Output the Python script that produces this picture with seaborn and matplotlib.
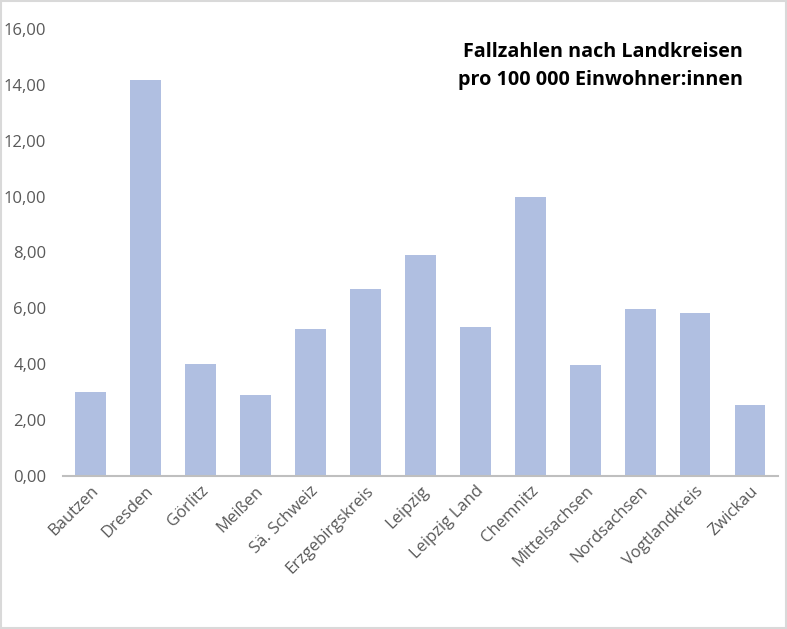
import matplotlib
matplotlib.use("Agg")
import matplotlib.pyplot as plt
import matplotlib.ticker as mticker
import seaborn as sns
import pandas as pd

# Landkreise und Fallzahlen pro 100 000 Einwohner:innen
kreise = ["Bautzen", "Dresden", "Görlitz", "Meißen", "Sä. Schweiz", "Erzgebirgskreis",
          "Leipzig", "Leipzig Land", "Chemnitz", "Mittelsachsen", "Nordsachsen",
          "Vogtlandkreis", "Zwickau"]
fallzahlen = [3.00, 14.17, 4.01, 2.90, 5.26, 6.70, 7.92, 5.34, 10.00, 3.97, 5.97, 5.83, 2.54]
title_lines = ["Fallzahlen nach Landkreisen", "pro 100 000 Einwohner:innen"]

df = pd.DataFrame({"kreis": kreise, "wert": fallzahlen})

sns.set_style("white")
plt.rcParams["font.family"] = ["Open Sans", "DejaVu Sans"]

fig = plt.figure(figsize=(7.87, 6.29), dpi=100)
ax = fig.add_axes([0.080, 0.2432, 0.908, 0.7108])

sns.barplot(data=df, x="kreis", y="wert", color="#B0BFE1", saturation=1,
            width=0.56, linewidth=0, ax=ax)

ax.set_ylim(0, 16)
ax.set_xlim(-0.5, len(kreise) - 0.5)
ax.yaxis.set_major_locator(mticker.MultipleLocator(2))
ax.yaxis.set_major_formatter(mticker.FuncFormatter(lambda v, p: f"{v:.2f}".replace(".", ",")))
ax.set_xlabel("")
ax.set_ylabel("")
for s in ["left", "right", "top"]:
    ax.spines[s].set_visible(False)
ax.spines["bottom"].set_color("#BFBFBF")
ax.spines["bottom"].set_linewidth(1.5)
ax.tick_params(axis="both", length=0, colors="#595959", labelsize=12)
ax.tick_params(axis="y", pad=12)
ax.tick_params(axis="x", pad=5)
plt.setp(ax.get_xticklabels(), rotation=45, ha="right", rotation_mode="anchor")

fig.text(0.944, 0.895, "\n".join(title_lines), ha="right", va="center",
         fontsize=14.2, fontweight="bold", color="black", linespacing=1.55)

# leichter Rahmen wie im Original
fig.patches.append(plt.Rectangle((0.001, 0.001), 0.998, 0.998, transform=fig.transFigure,
                                 fill=False, edgecolor="#D9D9D9", linewidth=1.5))

fig.savefig("out.png", dpi=100)
